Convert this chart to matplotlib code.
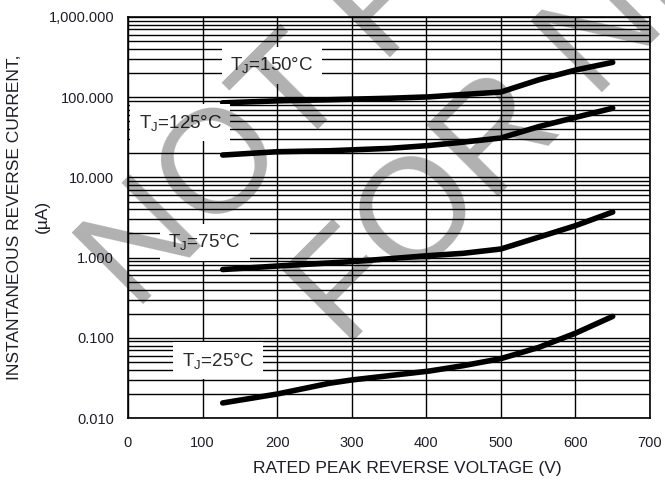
"""
Typical reverse characteristics: reverse current vs rated peak reverse voltage.
"""
import matplotlib
matplotlib.use("Agg")
from matplotlib import pyplot as plt
from matplotlib.ticker import FixedLocator, FixedFormatter, LogLocator, NullFormatter

plt.rcParams['font.family'] = ['Liberation Sans', 'DejaVu Sans']
plt.rcParams['mathtext.default'] = 'regular'

# curves (V, uA)
v_150 = [127, 200, 270, 350, 404, 449, 500, 551, 600, 650]
i_150 = [85, 90, 93, 97, 101, 108, 116, 165, 218, 272]

v_125 = [127, 200, 270, 350, 404, 449, 500, 551, 600, 650]
i_125 = [19.0, 20.9, 21.5, 23.0, 25.0, 27.5, 31.0, 43.0, 56.0, 73.0]

v_75 = [127, 200, 300, 404, 449, 500, 551, 600, 650]
i_75 = [0.71, 0.785, 0.89, 1.06, 1.13, 1.28, 1.8, 2.5, 3.7]

v_25 = [127, 200, 270, 300, 404, 450, 500, 551, 600, 650]
i_25 = [0.0154, 0.0199, 0.0271, 0.0298, 0.0385, 0.045, 0.055, 0.076, 0.114, 0.185]

curve_labels = ['T$_J$=150°C', 'T$_J$=125°C', 'T$_J$=75°C', 'T$_J$=25°C']
label_pos = [(193, 250.0), (70, 48.0), (103, 1.55), (121, 0.052)]

x_ticks = [0, 100, 200, 300, 400, 500, 600, 700]
y_ticks = [0.01, 0.1, 1, 10, 100, 1000]
y_tick_labels = ['0.010', '0.100', '1.000', '10.000', '100.000', '1,000.000']

W, H = 665, 483
fig = plt.figure(figsize=(W / 100, H / 100), dpi=100)
ax = fig.add_axes([128 / W, 1 - 418 / H, 522 / W, 401 / H])

ax.set_yscale('log')
ax.set_xlim(0, 700)
ax.set_ylim(0.01, 1000)

ax.xaxis.set_major_locator(FixedLocator(x_ticks))
ax.yaxis.set_major_locator(FixedLocator(y_ticks))
ax.yaxis.set_major_formatter(FixedFormatter(y_tick_labels))
ax.yaxis.set_minor_locator(LogLocator(base=10, subs=range(2, 10), numticks=20))
ax.yaxis.set_minor_formatter(NullFormatter())
ax.tick_params(which='both', length=0, labelsize=10.5, colors='#1e1e28')
ax.tick_params(axis='x', pad=13)
ax.tick_params(axis='y', pad=10)

ax.grid(True, which='major', color='black', lw=1.0)
ax.grid(True, which='minor', axis='y', color='black', lw=1.0)
for s in ax.spines.values():
    s.set_color('black')
    s.set_linewidth(1.2)

for vv, ii in [(v_150, i_150), (v_125, i_125), (v_75, i_75), (v_25, i_25)]:
    ax.plot(vv, ii, color='black', lw=4.0, solid_capstyle='round',
            solid_joinstyle='round', zorder=4)

for text, (xv, yv) in zip(curve_labels, label_pos):
    ax.text(xv, yv, text, fontsize=13.5, color='#2a2a2a', ha='center', va='center',
            zorder=5, bbox=dict(boxstyle='square,pad=0.45', fc='white', ec='none'))

fig.text(407 / W, 1 - 468 / H, 'RATED PEAK REVERSE VOLTAGE (V)', fontsize=12.5,
         color='#1e1e28', ha='center', va='center')
fig.text(15 / W, 1 - 217 / H, 'INSTANTANEOUS REVERSE CURRENT,', fontsize=12.5,
         color='#1e1e28', ha='center', va='center', rotation=90)
fig.text(42 / W, 1 - 216 / H, '(µA)', fontsize=12.5,
         color='#1e1e28', ha='center', va='center', rotation=90)

# watermark
for txt, (px, py) in [('NOT FOR NEW DESIGN', (135, 312)), ('FOR NEW DESIGN', (345, 349))]:
    fig.text(px / W, 1 - py / H, txt, fontsize=106, color='black', alpha=0.31,
             rotation=45, rotation_mode='anchor', ha='left', va='baseline', zorder=10)

fig.savefig('out.png', dpi=100)
